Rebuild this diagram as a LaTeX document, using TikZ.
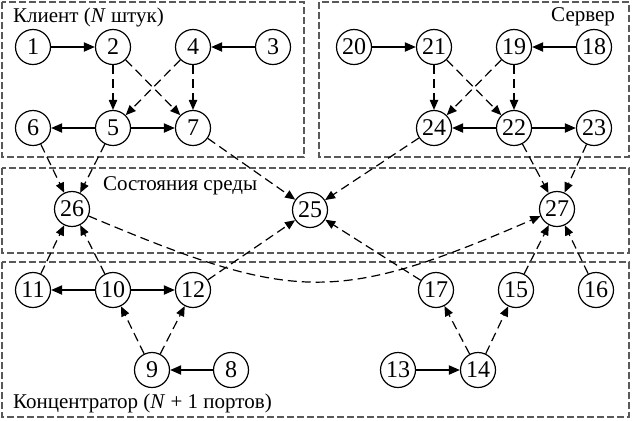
\documentclass[tikz,border=0pt]{standalone}
\usepackage{fontspec}
\setmainfont{LiberationSerif}[Extension=.ttf,
  UprightFont=*-Regular, ItalicFont=*-Italic,
  BoldFont=*-Bold, BoldItalicFont=*-BoldItalic]
\usetikzlibrary{arrows.meta}

\begin{document}
\begin{tikzpicture}[x=0.5pt, y=-0.5pt, font=\rmfamily\fontsize{10.5}{12}\selectfont,
  uzel/.style={circle,draw,line width=0.6pt,minimum size=17.5pt,inner sep=0pt,
               font=\rmfamily\fontsize{12}{13}\selectfont},
  svyaz/.style={-{Triangle[length=5.5pt,width=4.5pt]},line width=1pt},
  vliyanie/.style={-{Triangle[length=5pt,width=4.2pt]},line width=0.6pt,
                   dash pattern=on 4.5pt off 2.5pt},
  oblast/.style={draw=black!65,line width=0.6pt,dash pattern=on 3.5pt off 1.5pt}]

  \useasboundingbox (0,0) rectangle (632,420);

  % --- области ---
  \draw[oblast] (2,2) rectangle (304,157);
  \draw[oblast] (319,2) rectangle (629,157);
  \draw[oblast] (2,168) rectangle (629,253);
  \draw[oblast] (2,262) rectangle (629,417);
  \node[anchor=west] (tklient) at (6,17) {Клиент (\textit{N} штук)};
  \node[anchor=east] (tserver) at (622,17) {Сервер};
  \node[anchor=west] (tsreda) at (96,186) {Состояния среды};
  \node[anchor=west] (tkonc) at (6,403) {Концентратор (\textit{N} + 1 портов)};

  % --- клиент ---
  \node[uzel] (v1) at (33,47) {1};
  \node[uzel] (v2) at (113,47) {2};
  \node[uzel] (v4) at (193,47) {4};
  \node[uzel] (v3) at (273,47) {3};
  \node[uzel] (v6) at (33,128) {6};
  \node[uzel] (v5) at (113,128) {5};
  \node[uzel] (v7) at (193,128) {7};

  % --- сервер ---
  \node[uzel] (v20) at (354,47) {20};
  \node[uzel] (v21) at (434,47) {21};
  \node[uzel] (v19) at (514,47) {19};
  \node[uzel] (v18) at (594,47) {18};
  \node[uzel] (v24) at (434,128) {24};
  \node[uzel] (v22) at (514,128) {22};
  \node[uzel] (v23) at (594,128) {23};

  % --- среда ---
  \node[uzel] (v26) at (72,209) {26};
  \node[uzel] (v25) at (310,210) {25};
  \node[uzel] (v27) at (557,209) {27};

  % --- концентратор ---
  \node[uzel] (v11) at (33,290) {11};
  \node[uzel] (v10) at (113,290) {10};
  \node[uzel] (v12) at (193,290) {12};
  \node[uzel] (v9) at (152,370) {9};
  \node[uzel] (v8) at (231,370) {8};
  \node[uzel] (v17) at (436,290) {17};
  \node[uzel] (v15) at (516,290) {15};
  \node[uzel] (v16) at (596,290) {16};
  \node[uzel] (v13) at (398,370) {13};
  \node[uzel] (v14) at (478,370) {14};

  % --- связи ---
  \foreach \a/\b in {1/2,3/4,5/6,5/7,20/21,18/19,22/24,22/23,10/11,10/12,8/9,13/14}
    \draw[svyaz] (v\a) -- (v\b);
  \foreach \a/\b in {2/5,2/7,4/5,4/7,21/24,21/22,19/24,19/22,9/10,9/12,14/17,14/15}
    \draw[vliyanie] (v\a) -- (v\b);
  \foreach \a/\b in {6/26,5/26,11/26,10/26,7/25,24/25,12/25,17/25,22/27,23/27,15/27,16/27}
    \draw[vliyanie] (v\a) -- (v\b);
  \draw[vliyanie] (v26) .. controls (293,302) and (335,305) .. (v27);
\end{tikzpicture}
\end{document}
